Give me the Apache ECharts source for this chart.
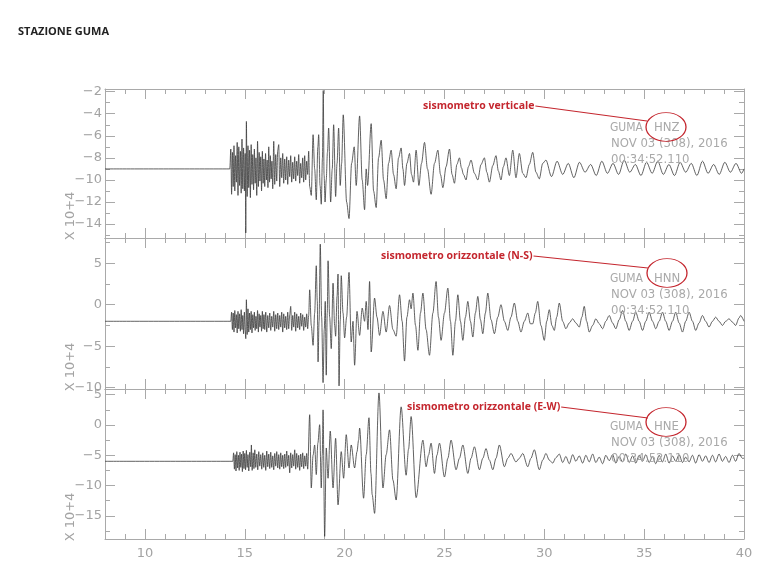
<!DOCTYPE html>
<html><head><meta charset="utf-8">
<script src="https://cdn.jsdelivr.net/npm/echarts@6/dist/echarts.min.js"></script>
<style>html,body{margin:0;padding:0;background:#fff}#c{width:768px;height:576px}</style>
</head><body><div id="c"></div>
<script>
// ---------- DATA ----------
const title = 'STAZIONE GUMA';
const yAxisUnit = 'X 10+4';
const xMajorTicks = [10, 15, 20, 25, 30, 35, 40];
const xMinorTicks = [9, 11, 12, 13, 14, 16, 17, 18, 19, 21, 22, 23, 24, 26, 27, 28, 29, 31, 32, 33, 34, 36, 37, 38, 39];

const hnzMajorTicks = [-14, -12, -10, -8, -6, -4, -2];
const hnzMinorTicks = [-15, -13, -11, -9, -7, -5, -3];
const hnnMajorTicks = [-10, -5, 0, 5];
const hnnMinorTicks = [-7.5, -2.5, 2.5, 7.5];
const hneMajorTicks = [-15, -10, -5, 0, 5];
const hneMinorTicks = [-17.5, -12.5, -7.5, -2.5, 2.5];

const channels = ['HNZ', 'HNN', 'HNE'];
const station = 'GUMA';
const dateLabel = 'NOV 03 (308), 2016';
const timeLabel = '00:34:52.110';
const notes = ['sismometro verticale', 'sismometro orizzontale (N-S)', 'sismometro orizzontale (E-W)'];

// vertical component (time s, amplitude x10^4)
const hnz = [
[8,-9],[14.25,-9],[14.30,-7.2],[14.34,-11.3],[14.38,-7.5],[14.42,-10.6],[14.46,-6.9],[14.50,-11.0],[14.54,-7.8],[14.58,-10.2],
[14.62,-6.6],[14.66,-11.4],[14.70,-7.0],[14.74,-10.5],[14.78,-7.4],[14.82,-11.2],[14.86,-6.3],[14.90,-10.8],[14.94,-7.1],[14.98,-11.0],
[15.02,-7.6],[15.05,-14.8],[15.08,-4.7],[15.12,-11.5],[15.16,-6.9],[15.20,-10.7],[15.24,-7.3],[15.28,-11.6],[15.32,-6.8],[15.36,-10.4],
[15.40,-7.7],[15.44,-10.9],[15.48,-7.2],[15.52,-10.3],[15.56,-8.0],[15.60,-11.4],[15.64,-6.5],[15.68,-10.6],[15.72,-7.5],[15.76,-10.1],
[15.80,-7.9],[15.84,-11.0],[15.88,-7.4],[15.92,-10.3],[15.96,-8.1],[16.00,-10.6],[16.04,-7.6],[16.08,-10.0],[16.12,-8.2],[16.16,-10.7],
[16.20,-7.0],[16.24,-10.2],[16.28,-7.8],[16.32,-9.9],[16.36,-8.3],[16.40,-10.8],[16.45,-6.5],[16.50,-10.4],[16.55,-7.7],[16.60,-10.1],
[16.65,-7.3],[16.70,-6.8],[16.75,-10.6],[16.80,-8.0],[16.85,-9.8],[16.90,-7.6],[16.95,-10.3],[17.00,-8.1],[17.05,-10.0],[17.10,-7.9],
[17.15,-10.4],[17.20,-8.2],[17.25,-9.7],[17.30,-7.8],[17.35,-10.2],[17.40,-8.4],[17.45,-9.9],[17.50,-7.9],[17.55,-10.1],[17.60,-8.3],
[17.65,-9.6],[17.70,-7.7],[17.75,-10.3],[17.80,-8.5],[17.85,-9.8],[17.90,-8.0],[17.95,-10.2],[18.00,-7.8],[18.05,-10.0],[18.10,-8.3],
[18.15,-9.5],[18.20,-7.4],[18.25,-10.6],[18.33,-11.4],[18.42,-5.9],[18.50,-9.0],[18.58,-11.8],[18.66,-7.0],[18.70,-5.9],[18.77,-10.5],
[18.83,-12.2],[18.89,-8.0],[18.93,-1.9],[18.97,-9.5],[19.02,-12.0],[19.08,-10.0],[19.14,-7.5],[19.20,-5.3],[19.30,-12.0],[19.38,-9.0],
[19.45,-5.0],[19.55,-11.5],[19.62,-8.5],[19.70,-5.3],[19.78,-10.5],[19.85,-8.5],[19.93,-4.1],[20.10,-12.0],[20.22,-13.5],[20.35,-8.5],
[20.48,-7.0],[20.58,-10.5],[20.75,-4.2],[20.88,-10.0],[21.00,-12.7],[21.08,-9.0],[21.15,-10.5],[21.33,-4.9],[21.45,-11.0],[21.58,-12.5],
[21.70,-8.0],[21.83,-6.4],[21.95,-10.0],[22.08,-11.7],[22.20,-8.5],[22.33,-7.3],[22.45,-9.5],[22.58,-10.8],[22.70,-8.0],[22.83,-7.1],
[22.92,-9.0],[23.00,-10.5],[23.12,-8.5],[23.25,-7.6],[23.35,-9.5],[23.45,-10.2],[23.58,-7.3],[23.72,-10.5],[23.85,-8.5],[24.00,-6.6],
[24.15,-9.0],[24.33,-11.3],[24.50,-8.5],[24.67,-7.3],[24.80,-9.5],[24.92,-10.7],[25.08,-8.8],[25.25,-7.2],[25.38,-9.5],[25.50,-10.3],
[25.62,-8.6],[25.75,-8.0],[25.85,-8.9],[25.95,-9.5],[26.08,-10.0],[26.20,-8.8],[26.33,-8.2],[26.50,-9.4],[26.67,-10.0],[26.83,-8.6],
[27.00,-8.0],[27.12,-9.3],[27.25,-10.2],[27.42,-8.7],[27.58,-7.8],[27.70,-9.2],[27.83,-10.0],[27.95,-8.8],[28.08,-8.0],[28.25,-9.6],
[28.42,-7.3],[28.58,-9.8],[28.75,-7.6],[28.92,-9.4],[29.08,-9.8],[29.25,-8.6],[29.42,-7.5],[29.58,-9.3],[29.75,-9.9],[29.92,-8.5],
[30.08,-8.2],[30.36,-9.7],[30.64,-8.3],[30.92,-9.5],[31.20,-8.5],[31.48,-9.8],[31.76,-8.4],[32.04,-9.3],[32.32,-8.6],[32.60,-9.6],
[32.88,-8.3],[33.16,-9.4],[33.44,-8.5],[33.72,-9.5],[34.00,-8.2],[34.28,-9.3],[34.56,-8.6],[34.84,-9.6],[35.12,-8.4],[35.40,-9.4],
[35.68,-8.3],[35.96,-9.5],[36.24,-8.6],[36.52,-9.6],[36.80,-8.4],[37.08,-9.3],[37.36,-8.5],[37.64,-9.6],[37.92,-8.3],[38.20,-9.4],
[38.48,-8.6],[38.76,-9.5],[39.04,-8.4],[39.32,-9.3],[39.60,-8.5],[39.88,-9.4],[40,-9.0]
];

// north-south component
const hnn = [
[8,-2],[14.3,-2],[14.34,-0.9],[14.38,-3.0],[14.42,-1.0],[14.46,-3.3],[14.50,-0.7],[14.54,-2.8],[14.58,-1.2],[14.62,-3.4],
[14.66,-0.8],[14.70,-2.9],[14.74,-1.1],[14.78,-3.2],[14.82,-0.6],[14.86,-3.0],[14.90,-1.3],[14.94,-3.5],[14.98,-0.9],[15.02,-3.1],
[15.05,-4.1],[15.08,0.6],[15.12,-3.6],[15.16,-0.5],[15.20,-3.3],[15.24,-1.0],[15.28,-3.0],[15.32,-0.8],[15.36,-3.4],[15.40,-1.2],
[15.44,-2.8],[15.48,-0.9],[15.52,-3.1],[15.56,-1.4],[15.60,-2.9],[15.64,-0.7],[15.68,-3.3],[15.72,-1.1],[15.76,-2.7],[15.80,-1.3],
[15.84,-3.2],[15.88,-0.8],[15.92,-2.9],[15.96,-1.2],[16.00,-3.0],[16.05,-0.9],[16.10,-3.3],[16.15,-1.3],[16.20,-2.8],[16.25,-1.0],
[16.30,-3.1],[16.35,-1.4],[16.40,-2.7],[16.45,-0.8],[16.50,-3.2],[16.55,-1.2],[16.60,-2.9],[16.65,-1.0],[16.70,-3.0],[16.75,-1.3],
[16.80,-2.7],[16.85,-0.9],[16.90,-3.3],[16.95,-1.1],[17.00,-2.8],[17.05,-1.4],[17.10,-3.0],[17.15,-0.9],[17.20,-2.9],[17.25,-1.2],
[17.30,-0.2],[17.35,-3.1],[17.40,-1.3],[17.45,-2.7],[17.50,-0.9],[17.55,-3.2],[17.60,-1.1],[17.65,-2.8],[17.70,-1.4],[17.75,-3.0],
[17.80,-1.0],[17.85,-2.6],[17.90,-1.2],[17.95,-3.1],[18.00,-1.5],[18.05,-2.7],[18.10,-1.1],[18.15,-2.9],[18.20,-1.3],
[18.25,1.8],[18.33,-2.5],[18.42,-4.9],[18.50,-1.0],[18.58,4.7],[18.63,0.5],[18.67,-6.9],[18.72,-2.0],[18.78,7.3],[18.85,-1.5],
[18.92,-9.4],[18.98,-3.0],[19.03,0.4],[19.08,-8.5],[19.13,-1.0],[19.17,5.3],[19.25,-1.5],[19.33,-5.3],[19.42,2.6],[19.50,-2.5],
[19.55,-3.8],[19.62,1.0],[19.67,3.7],[19.72,-9.8],[19.78,-2.0],[19.83,3.5],[19.92,-1.0],[20.00,-4.0],[20.10,-1.5],[20.22,3.9],
[20.33,-4.5],[20.42,-2.0],[20.50,-7.3],[20.62,-0.8],[20.75,-3.7],[20.88,-0.4],[21.00,-2.0],[21.08,0.4],[21.17,-3.0],[21.25,2.8],
[21.33,-5.7],[21.50,0.8],[21.62,-1.5],[21.75,-3.7],[21.92,-0.8],[22.08,-3.3],[22.25,-0.1],[22.42,-3.0],[22.58,-3.8],[22.75,1.2],
[22.88,-2.0],[23.00,-6.8],[23.12,-1.5],[23.25,0.6],[23.33,-0.5],[23.42,1.4],[23.55,-2.5],[23.67,-5.5],[23.80,-1.0],[23.92,1.4],
[24.08,-3.0],[24.25,-6.1],[24.42,-1.0],[24.58,2.8],[24.70,-1.5],[24.83,-4.3],[25.00,-1.0],[25.17,2.0],[25.30,-2.0],[25.42,-6.1],
[25.55,-2.0],[25.67,1.2],[25.80,-2.0],[25.92,-4.3],[26.05,-1.5],[26.17,0.4],[26.30,-2.0],[26.42,-3.9],[26.55,-1.0],[26.67,1.0],
[26.80,-1.8],[26.92,-3.5],[27.05,-1.0],[27.17,1.4],[27.33,-1.8],[27.50,-3.5],[27.67,-1.5],[27.83,0.0],[28.00,-2.0],[28.17,-3.1],
[28.33,-1.5],[28.50,0.2],[28.67,-2.0],[28.83,-3.3],[29.00,-2.0],[29.17,-1.0],[29.30,-2.3],[29.42,-2.3],[29.55,-1.0],[29.67,0.4],
[29.83,-2.5],[30.00,-4.3],[30.12,-2.0],[30.25,-0.6],[30.38,-2.5],[30.50,-3.1],[30.62,-1.5],[30.75,0.2],[30.92,-2.0],[31.08,-2.9],
[31.25,-2.2],[31.42,-1.7],[31.58,-2.2],[31.75,-2.7],[31.88,-1.5],[32.00,-0.2],[32.12,-2.0],[32.25,-3.3],[32.42,-2.5],[32.58,-1.7],
[32.75,-2.3],[32.92,-2.9],[33.08,-2.0],[33.25,-1.3],[33.42,-2.2],[33.58,-2.9],[33.75,-1.8],[33.92,-0.7],[34.08,-2.0],[34.25,-3.1],
[34.42,-2.0],[34.58,-0.9],[34.75,-2.0],[34.92,-3.1],[35.08,-2.0],[35.25,-0.9],[35.42,-2.0],[35.58,-2.9],[35.75,-2.0],[35.92,-0.9],
[36.08,-2.0],[36.25,-3.1],[36.42,-2.0],[36.58,-0.9],[36.75,-2.2],[36.92,-3.3],[37.08,-2.0],[37.25,-0.9],[37.42,-2.0],[37.58,-3.1],
[37.75,-2.2],[37.92,-1.3],[38.08,-2.0],[38.25,-2.7],[38.42,-2.0],[38.58,-1.5],[38.75,-2.0],[38.92,-2.5],[39.08,-2.0],[39.25,-1.7],
[39.42,-2.1],[39.58,-2.5],[39.75,-1.6],[39.83,-1.3],[40.0,-2.0]
];

// east-west component
const hne = [
[8,-6],[14.4,-6],[14.44,-4.6],[14.48,-7.3],[14.52,-4.9],[14.56,-7.6],[14.60,-4.4],[14.64,-7.1],[14.68,-5.0],[14.72,-7.5],
[14.76,-4.5],[14.80,-7.0],[14.84,-4.8],[14.88,-7.7],[14.92,-4.3],[14.96,-7.2],[15.00,-4.7],[15.04,-7.4],[15.08,-4.2],[15.12,-7.0],
[15.16,-4.9],[15.20,-7.6],[15.25,-4.5],[15.30,-6.9],[15.33,-3.3],[15.37,-7.5],[15.42,-4.6],[15.46,-7.2],[15.50,-4.1],[15.55,-7.0],
[15.60,-4.8],[15.65,-7.4],[15.70,-4.4],[15.75,-6.8],[15.80,-4.9],[15.85,-7.3],[15.90,-4.6],[15.95,-7.0],[16.00,-5.0],[16.05,-7.5],
[16.10,-4.3],[16.15,-6.9],[16.20,-4.8],[16.25,-7.2],[16.30,-4.5],[16.35,-7.0],[16.40,-5.1],[16.45,-7.4],[16.50,-4.7],[16.55,-6.8],
[16.60,-4.4],[16.65,-7.1],[16.70,-4.9],[16.75,-7.3],[16.80,-4.6],[16.85,-6.9],[16.90,-5.0],[16.95,-7.2],[17.00,-4.8],[17.05,-7.0],
[17.10,-4.3],[17.15,-6.8],[17.20,-5.0],[17.25,-7.9],[17.30,-4.6],[17.35,-7.1],[17.40,-4.9],[17.45,-6.8],[17.50,-4.1],[17.55,-7.3],
[17.60,-4.7],[17.65,-7.0],[17.70,-5.0],[17.75,-7.5],[17.80,-4.8],[17.85,-6.9],[17.90,-4.6],[17.95,-7.2],[18.00,-5.1],[18.05,-6.8],
[18.10,-4.7],[18.15,-7.3],
[18.25,1.7],[18.33,-10.4],[18.42,-5.0],[18.50,-3.3],[18.58,-8.2],[18.66,-3.0],[18.75,0.05],[18.83,-10.4],[18.88,-5.0],[18.92,2.5],
[19.00,-18.4],[19.08,-3.8],[19.17,-8.8],[19.28,-1.0],[19.42,-10.4],[19.55,-2.2],[19.67,-13.2],[19.83,-4.4],[19.95,-8.8],[20.08,-1.6],
[20.22,-7.1],[20.33,-3.3],[20.50,-7.1],[20.62,-4.4],[20.70,-2.5],[20.75,-0.5],[20.95,-12.1],[21.08,-4.9],[21.22,1.2],[21.32,-8.0],
[21.38,-11.5],[21.50,-14.6],[21.72,5.3],[21.92,-10.4],[22.08,-4.9],[22.25,-0.8],[22.42,-9.1],[22.58,-12.4],[22.83,3.0],[23.08,-8.3],
[23.20,-4.0],[23.33,1.4],[23.58,-12.0],[23.92,-2.5],[24.08,-6.9],[24.20,-5.0],[24.33,-3.0],[24.50,-8.0],[24.62,-5.0],[24.75,-3.0],
[25.00,-8.6],[25.17,-5.5],[25.33,-2.5],[25.58,-7.4],[25.75,-5.5],[25.92,-3.3],[26.17,-8.0],[26.33,-5.5],[26.50,-3.6],[26.75,-7.4],
[26.92,-5.5],[27.08,-3.9],[27.25,-5.8],[27.42,-7.4],[27.58,-5.5],[27.75,-3.3],[28.00,-6.9],[28.17,-5.5],[28.33,-4.7],[28.58,-6.1],
[28.75,-5.5],[28.92,-4.7],[29.17,-6.9],[29.33,-5.5],[29.50,-4.1],[29.75,-7.4],[29.92,-5.8],[30.08,-4.7],[30.25,-5.8],[30.42,-6.3],
[30.58,-5.4],[30.75,-4.8],[30.92,-6.2],[31.08,-5.2],[31.25,-6.4],[31.42,-4.9],[31.58,-6.0],[31.75,-5.1],[31.92,-6.3],[32.08,-5.0],
[32.25,-6.1],[32.42,-4.8],[32.58,-6.2],[32.75,-5.3],[32.92,-6.4],[33.08,-5.0],[33.25,-5.9],[33.42,-4.9],[33.58,-6.3],[33.75,-5.2],
[33.92,-6.1],[34.08,-4.8],[34.25,-6.2],[34.42,-5.1],[34.58,-6.3],[34.75,-5.0],[34.92,-6.0],[35.08,-4.9],[35.25,-6.2],[35.42,-5.2],
[35.58,-6.4],[35.75,-5.0],[35.92,-6.1],[36.08,-4.8],[36.25,-6.3],[36.42,-5.1],[36.58,-6.0],[36.75,-4.9],[36.92,-6.2],[37.08,-5.3],
[37.25,-6.1],[37.42,-5.0],[37.58,-6.3],[37.75,-4.9],[37.92,-6.0],[38.08,-5.1],[38.25,-6.2],[38.42,-5.0],[38.58,-6.1],[38.75,-4.8],
[38.92,-6.0],[39.08,-5.2],[39.25,-6.2],[39.42,-5.0],[39.58,-6.0],[39.75,-4.7],[39.92,-5.5],[40,-5.5]
];

// ---------- LAYOUT / STYLE ----------
const traces = [hnz, hnn, hne];
const yMajor = [hnzMajorTicks, hnnMajorTicks, hneMajorTicks];
const yMinor = [hnzMinorTicks, hnnMinorTicks, hneMinorTicks];
const yRange = [[-15.26, -1.76], [-10.17, 8.05], [-18.84, 5.95]];
const gridBox = [{top: 89, height: 149}, {top: 238, height: 151}, {top: 389, height: 150}];
const LEFT = 105, WIDTH = 639;
const AX = '#a9a9a9';
const LBL = {color: '#a3a3a3', fontFamily: 'DejaVu Sans, Liberation Sans, sans-serif', fontSize: 13};
const minusFmt = v => String(v).replace('-', '\u2212');

const grid = [], xAxis = [], yAxis = [], series = [];
for (let i = 0; i < 3; i++) {
  grid.push({left: LEFT, width: WIDTH, top: gridBox[i].top, height: gridBox[i].height, containLabel: false});
  const base = {gridIndex: i, type: 'value', min: 8, max: 40, splitLine: {show: false}};
  xAxis.push(Object.assign({}, base, {position: 'bottom',
    axisLine: {show: true, onZero: false, lineStyle: {color: AX, width: 1}},
    axisTick: {show: true, inside: true, length: 10, customValues: xMajorTicks, lineStyle: {color: AX}},
    axisLabel: {show: i === 2, customValues: xMajorTicks, margin: 8, ...LBL}}));
  xAxis.push(Object.assign({}, base, {position: 'bottom',
    axisLine: {show: false, onZero: false},
    axisTick: {show: true, inside: true, length: 5, customValues: xMinorTicks, lineStyle: {color: AX}},
    axisLabel: {show: false}}));
  xAxis.push(Object.assign({}, base, {position: 'top',
    axisLine: {show: true, onZero: false, lineStyle: {color: AX, width: 1}},
    axisTick: {show: true, inside: true, length: 10, customValues: xMajorTicks, lineStyle: {color: AX}},
    axisLabel: {show: false}}));
  xAxis.push(Object.assign({}, base, {position: 'top',
    axisLine: {show: false, onZero: false},
    axisTick: {show: true, inside: true, length: 5, customValues: xMinorTicks, lineStyle: {color: AX}},
    axisLabel: {show: false}}));

  const yb = {gridIndex: i, type: 'value', min: yRange[i][0], max: yRange[i][1], splitLine: {show: false}, scale: true};
  yAxis.push(Object.assign({}, yb, {position: 'left',
    axisLine: {show: true, onZero: false, lineStyle: {color: AX, width: 1}},
    axisTick: {show: true, inside: true, length: 10, customValues: yMajor[i], lineStyle: {color: AX}},
    axisLabel: {show: true, customValues: yMajor[i], margin: 3, formatter: minusFmt, ...LBL}}));
  yAxis.push(Object.assign({}, yb, {position: 'left',
    axisLine: {show: false, onZero: false},
    axisTick: {show: true, inside: true, length: 5, customValues: yMinor[i], lineStyle: {color: AX}},
    axisLabel: {show: false}}));
  yAxis.push(Object.assign({}, yb, {position: 'right',
    axisLine: {show: true, onZero: false, lineStyle: {color: AX, width: 1}},
    axisTick: {show: true, inside: true, length: 10, customValues: yMajor[i], lineStyle: {color: AX}},
    axisLabel: {show: false}}));
  yAxis.push(Object.assign({}, yb, {position: 'right',
    axisLine: {show: false, onZero: false},
    axisTick: {show: true, inside: true, length: 5, customValues: yMinor[i], lineStyle: {color: AX}},
    axisLabel: {show: false}}));

  series.push({type: 'line', name: channels[i], xAxisIndex: i * 4, yAxisIndex: i * 4, data: traces[i],
    showSymbol: false, symbol: 'none', smooth: 0.3, smoothMonotone: 'x', clip: true,
    lineStyle: {color: '#3a3a3a', width: 0.8}, z: 3});
}

// annotation overlay positions (pixels)
const noteBox = [
  {tx: 423, ty: 106, le: [647, 121], ex: 666, ey: 127, gy: 128},
  {tx: 381, ty: 256, le: [648, 268], ex: 667, ey: 273, gy: 279},
  {tx: 407, ty: 407, le: [648, 418], ex: 666, ey: 422, gy: 427}
];
const RED = '#c4262e';
const NOTE_FONT = 'bold 10.5px "Open Sans", sans-serif';
const INFO_FONT = '13px "DejaVu Sans Condensed", "Liberation Sans Narrow", "DejaVu Sans", sans-serif';
const INFO = {fill: '#a9a9a9', font: INFO_FONT};
const ctx = document.createElement('canvas').getContext('2d');
ctx.font = NOTE_FONT;
const graphic = [
  {type: 'text', x: 18, y: 32, style: {text: title, fill: '#222', font: 'bold 11px "Open Sans", sans-serif', textVerticalAlign: 'middle'}}
];
for (let i = 0; i < 3; i++) {
  const b = noteBox[i];
  const w = ctx.measureText(notes[i]).width;
  graphic.push({type: 'text', x: 71, y: gridBox[i].top + gridBox[i].height - 22, rotation: Math.PI / 2,
    style: {text: yAxisUnit, fill: '#a3a3a3', font: '13px "DejaVu Sans", sans-serif', textAlign: 'center', textVerticalAlign: 'middle'}});
  graphic.push({type: 'text', x: b.tx, y: b.ty, z: 10, style: {text: notes[i], fill: RED, font: NOTE_FONT, textVerticalAlign: 'middle'}});
  graphic.push({type: 'line', z: 10, shape: {x1: b.tx + w + 1, y1: b.ty, x2: b.le[0], y2: b.le[1]}, style: {stroke: RED, lineWidth: 1.1}});
  graphic.push({type: 'circle', z: 10, x: b.ex, y: b.ey, scaleY: 0.72, shape: {cx: 0, cy: 0, r: 20},
    style: {fill: 'none', stroke: RED, lineWidth: 1.3, strokeNoScale: true}});
  graphic.push({type: 'text', x: 610, y: b.gy, z: 5, style: Object.assign({text: station, textVerticalAlign: 'middle'}, INFO, {font: '12px "DejaVu Sans Condensed", "Liberation Sans Narrow", sans-serif'})});
  graphic.push({type: 'text', x: 654, y: b.gy, z: 5, style: Object.assign({text: channels[i], textVerticalAlign: 'middle'}, INFO)});
  graphic.push({type: 'text', x: 611, y: b.gy + 16, z: 5, style: Object.assign({text: dateLabel, textVerticalAlign: 'middle'}, INFO)});
  graphic.push({type: 'text', x: 611, y: b.gy + 32, z: 5, style: Object.assign({text: timeLabel, textVerticalAlign: 'middle'}, INFO)});
}

const chart = echarts.init(document.getElementById('c'), null, {renderer: 'canvas'});
chart.setOption({
  animation: false,
  backgroundColor: '#fff',
  grid, xAxis, yAxis, series, graphic
});
</script></body></html>
